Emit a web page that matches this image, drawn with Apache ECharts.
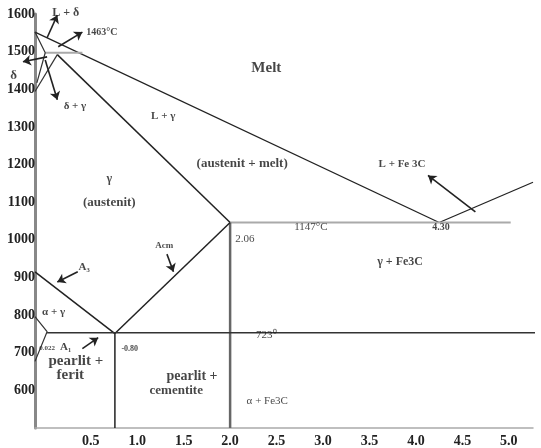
<!DOCTYPE html>
<html>
<head>
<meta charset="utf-8">
<script src="https://cdn.jsdelivr.net/npm/echarts@6/dist/echarts.min.js"></script>
<style>html,body{margin:0;padding:0;background:#fff}#c{width:541px;height:448px}</style>
</head>
<body>
<div id="c"></div>
<script>
// tick labels
const xTicks = [0.5, 1.0, 1.5, 2.0, 2.5, 3.0, 3.5, 4.0, 4.5, 5.0];
const yTicks = [600, 700, 800, 900, 1000, 1100, 1200, 1300, 1400, 1500, 1600];

// phase boundaries [wt% C, temperature as drawn]
const liquidusLeft = [[-0.1, 1552], [4.25, 1046]];
const liquidusRight = [[4.25, 1046], [5.26, 1153]];
const solidus = [[0.14, 1492], [2.0, 1046]];
const peritectic = [[0.01, 1497], [0.41, 1497]];
const deltaLeft = [[-0.1, 1552], [0.01, 1497], [-0.08, 1417]];
const deltaRight = [[0.14, 1492], [-0.1, 1394]];
const eutectic = [[2.0, 1046], [5.02, 1046]];
const carbonLimit = [[2.0, 1046], [2.0, 500]];
const acm = [[0.76, 751], [2.0, 1046]];
const a3 = [[-0.1, 915], [0.76, 751]];
const eutectoid = [[0.03, 753], [5.35, 753]];
const eutectoidComp = [[0.76, 751], [0.76, 500]];
const ferriteSolvus = [[-0.1, 796], [0.03, 756], [-0.1, 677]];

// arrows: from -> to (head at "to")
const arrows = [
  [[0.03, 1537], [0.14, 1597]],
  [[0.15, 1513], [0.41, 1552]],
  [[0.03, 1486], [-0.23, 1473]],
  [[0.01, 1478], [0.14, 1372]],
  [[4.64, 1074], [4.13, 1171]],
  [[1.32, 962], [1.39, 915]],
  [[0.36, 915], [0.14, 888]],
  [[0.41, 711], [0.58, 740]]
];

// annotations: x, y, text, font size, weight
const annX = [2.39, 0.23, 0.62, -0.33, 0.33, 1.28, 2.13, 0.70, 0.70, 3.85, 2.87, 2.16, 4.27, 3.83, 1.29, 0.43, 0.10, 0.03, 0.23, 0.92, 2.39, 0.34, 0.28, 1.59, 1.42, 2.40];
const annY = [1457, 1603, 1552, 1437, 1354, 1328, 1203, 1161, 1100, 1200, 1034, 1002, 1034, 941, 984, 928, 809, 711, 714, 711, 746, 677, 640, 637, 600, 571];
const annText = ['Melt', 'L + δ', '1463°C', 'δ', 'δ + γ', 'L + γ', '(austenit + melt)', 'γ', '(austenit)', 'L + Fe 3C', '1147°C', '2.06', '4.30', 'γ + Fe3C', 'Acm', 'A₃', 'α + γ', '0.022', 'A₁', '-0.80', '723⁰', 'pearlit +', 'ferit', 'pearlit +', 'cementite', 'α + Fe3C'];
const annSize = [15, 12, 10, 13, 11, 11, 13, 12, 13, 11, 11, 11, 10, 12, 9, 11, 11, 7, 11, 8, 11, 15, 15, 14, 13, 11];
const annBold = [1, 1, 1, 1, 1, 1, 1, 1, 1, 1, 0, 0, 1, 1, 1, 1, 1, 1, 1, 1, 0, 1, 1, 1, 1, 0];

const FONT = '"Liberation Serif", "Times New Roman", serif';
const chart = echarts.init(document.getElementById('c'), null, {renderer: 'canvas'});

function boundary(data, color, width) {
  return {
    type: 'line', data: data, symbol: 'none', clip: false, silent: true,
    lineStyle: {color: color, width: width}, z: 3, animation: false
  };
}

const labelData = annText.map((t, i) => ({
  value: [annX[i], annY[i]],
  label: {
    show: true, position: 'inside', formatter: t,
    fontSize: annSize[i], fontWeight: annBold[i] ? 'bold' : 'normal',
    fontFamily: FONT, color: '#161616'
  }
}));

chart.setOption({
  animation: false,
  backgroundColor: '#fff',
  grid: {left: 35, right: 8, top: 14, bottom: 18, containLabel: false},
  xAxis: {
    type: 'value', min: -0.1, max: 5.26,
    axisLine: {show: true, lineStyle: {color: '#aaa', width: 1.5}},
    axisTick: {show: false},
    splitLine: {show: false},
    axisLabel: {
      customValues: xTicks, margin: 6,
      formatter: v => v.toFixed(1),
      fontFamily: FONT, fontWeight: 'bold', fontSize: 14, color: '#222'
    }
  },
  yAxis: {
    type: 'value', min: 500, max: 1600,
    axisLine: {show: true, onZero: false, lineStyle: {color: '#888', width: 3}},
    axisTick: {show: false},
    splitLine: {show: false},
    axisLabel: {
      customValues: yTicks, margin: 0,
      formatter: v => String(v),
      fontFamily: FONT, fontWeight: 'bold', fontSize: 14, color: '#222'
    }
  },
  series: [
    boundary(liquidusLeft, '#222', 1.3),
    boundary(liquidusRight, '#222', 1.3),
    boundary(solidus, '#222', 1.5),
    boundary(peritectic, '#aaa', 2),
    boundary(deltaLeft, '#333', 1.2),
    boundary(deltaRight, '#333', 1.2),
    boundary(eutectic, '#aaa', 2),
    boundary(carbonLimit, '#666', 2.5),
    boundary(acm, '#222', 1.5),
    boundary(a3, '#222', 1.5),
    boundary(eutectoid, '#333', 1.5),
    boundary(eutectoidComp, '#222', 1.5),
    boundary(ferriteSolvus, '#333', 1.2),
    {
      type: 'lines', coordinateSystem: 'cartesian2d', clip: false, silent: true,
      symbol: ['none', 'arrow'], symbolSize: 8, z: 4,
      lineStyle: {color: '#222', width: 1.6, opacity: 1},
      data: arrows.map(a => ({coords: a}))
    },
    {
      type: 'scatter', clip: false, silent: true, symbolSize: 0, z: 5,
      data: labelData
    }
  ]
});
</script>
</body>
</html>
